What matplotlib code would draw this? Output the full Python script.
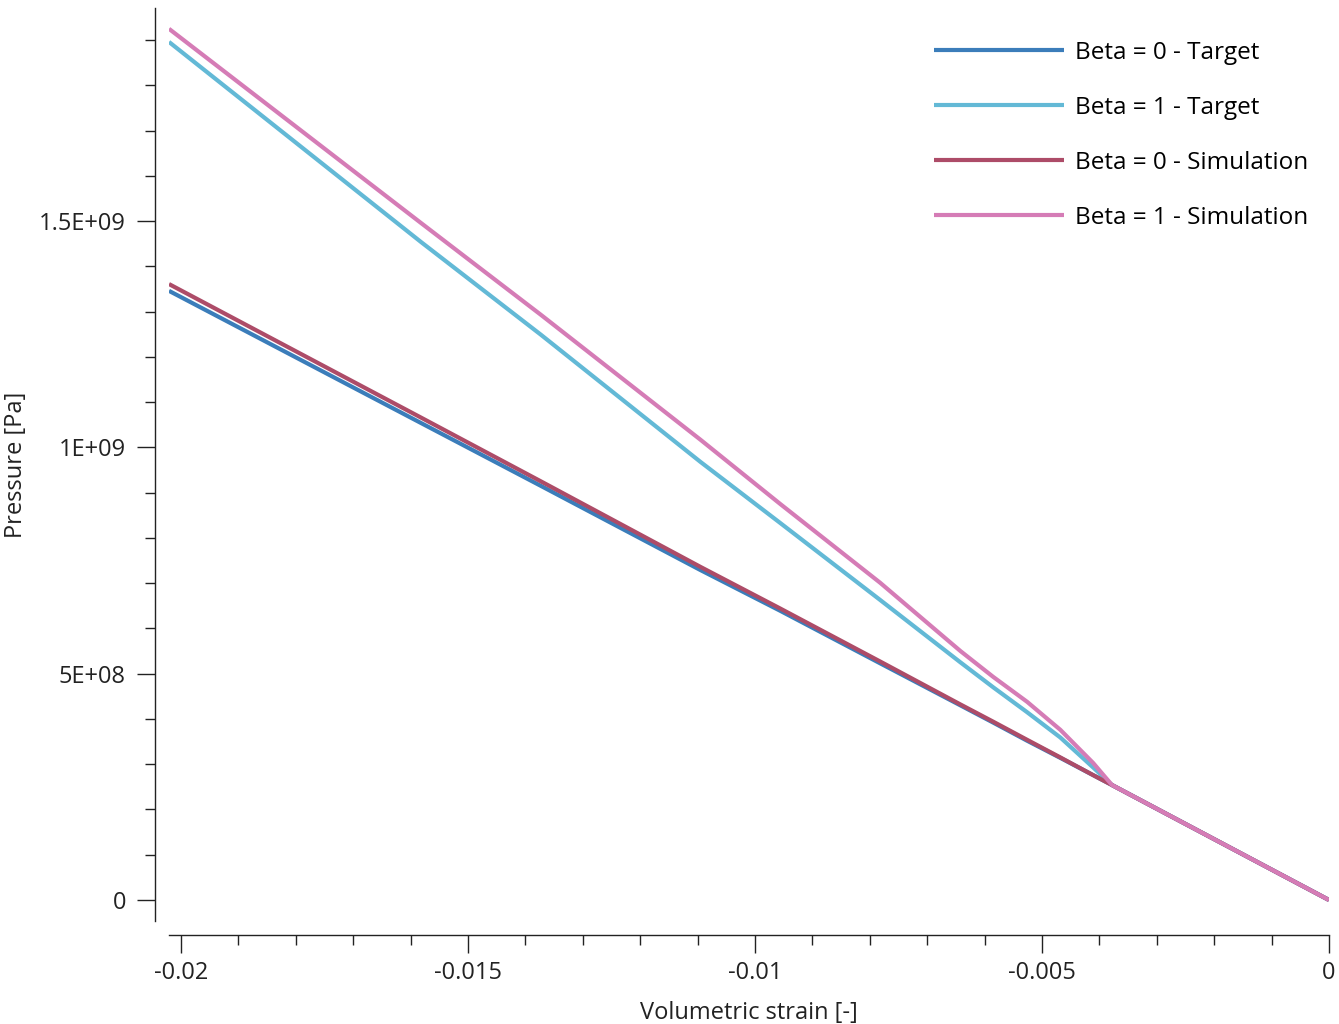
import matplotlib
matplotlib.use("Agg")
import matplotlib.pyplot as plt
from matplotlib.ticker import MultipleLocator, FuncFormatter

plt.rcParams['font.family'] = ['Open Sans', 'DejaVu Sans']
plt.rcParams['axes.unicode_minus'] = False

# volumetric strain points
strain = [0.0, -0.00378, -0.00411, -0.00468, -0.00526, -0.00585, -0.00642,
          -0.00782, -0.00956, -0.01095, -0.01373, -0.01582, -0.02021]

# pressure [Pa] for each series at the strain points above
p_beta0_target = [0.0, 0.254e9, 0.276e9, 0.314e9, 0.352e9, 0.392e9, 0.430e9,
                  0.523e9, 0.639e9, 0.729e9, 0.915e9, 1.054e9, 1.346e9]
p_beta1_target = [0.0, 0.254e9, 0.293e9, 0.359e9, 0.415e9, 0.470e9, 0.525e9,
                  0.663e9, 0.833e9, 0.968e9, 1.249e9, 1.454e9, 1.896e9]
p_beta0_sim = [0.0, 0.254e9, 0.276e9, 0.315e9, 0.354e9, 0.394e9, 0.432e9,
               0.527e9, 0.644e9, 0.736e9, 0.925e9, 1.066e9, 1.361e9]
p_beta1_sim = [0.0, 0.254e9, 0.303e9, 0.376e9, 0.438e9, 0.493e9, 0.550e9,
               0.701e9, 0.875e9, 1.017e9, 1.293e9, 1.496e9, 1.925e9]

series = [
    ("Beta = 0 - Target", p_beta0_target, "#3b7dba"),
    ("Beta = 1 - Target", p_beta1_target, "#63b9d6"),
    ("Beta = 0 - Simulation", p_beta0_sim, "#ad4c68"),
    ("Beta = 1 - Simulation", p_beta1_sim, "#d57cb6"),
]

fig = plt.figure(figsize=(13.39, 10.24), dpi=100)
ax = fig.add_axes([0.1262, 0.1006, 0.8663, 0.8916])

for name, p, c in series:
    ax.plot(strain, p, color=c, lw=3.0, label=name, solid_capstyle='butt')

ax.set_xlim(min(strain), 0)
ax.set_ylim(-0.0464e9, 1.971e9)

for s in ['top', 'right']:
    ax.spines[s].set_visible(False)
ax.spines['left'].set_position(('outward', 10))
ax.spines['bottom'].set_position(('outward', 10))
for s in ['left', 'bottom']:
    ax.spines[s].set_color('#222222')
    ax.spines[s].set_linewidth(1.0)

ax.xaxis.set_major_locator(MultipleLocator(0.005))
ax.xaxis.set_minor_locator(MultipleLocator(0.001))
ax.yaxis.set_major_locator(MultipleLocator(5e8))
ax.yaxis.set_minor_locator(MultipleLocator(1e8))

def xfmt(v, pos):
    if abs(v) < 1e-12:
        return "0"
    return ("%.3f" % v).rstrip('0')

def yfmt(v, pos):
    if abs(v) < 1:
        return "0"
    m, e = ("%.1E" % v).split('E')
    m = m.rstrip('0').rstrip('.')
    return m + "E" + e[0] + e[1:].zfill(2)

ax.xaxis.set_major_formatter(FuncFormatter(xfmt))
ax.yaxis.set_major_formatter(FuncFormatter(yfmt))

ax.tick_params(which='major', length=13, width=1.0, color='#222222', labelsize=17, labelcolor='#222222')
ax.tick_params(which='minor', length=7, width=1.0, color='#222222')
ax.tick_params(axis='x', which='major', pad=6)
ax.tick_params(axis='y', which='major', pad=8)

ax.set_xlabel("Volumetric strain [-]", fontsize=17, color='#222222', labelpad=11)
ax.set_ylabel("Pressure [Pa]", fontsize=17, color='#222222', labelpad=8)

ax.legend(loc='upper right', frameon=False, fontsize=17.5, handlelength=5.35,
          labelspacing=1.28, handletextpad=0.45, borderaxespad=0.0,
          bbox_to_anchor=(0.9905, 0.975))

fig.savefig("out.png", dpi=100)
